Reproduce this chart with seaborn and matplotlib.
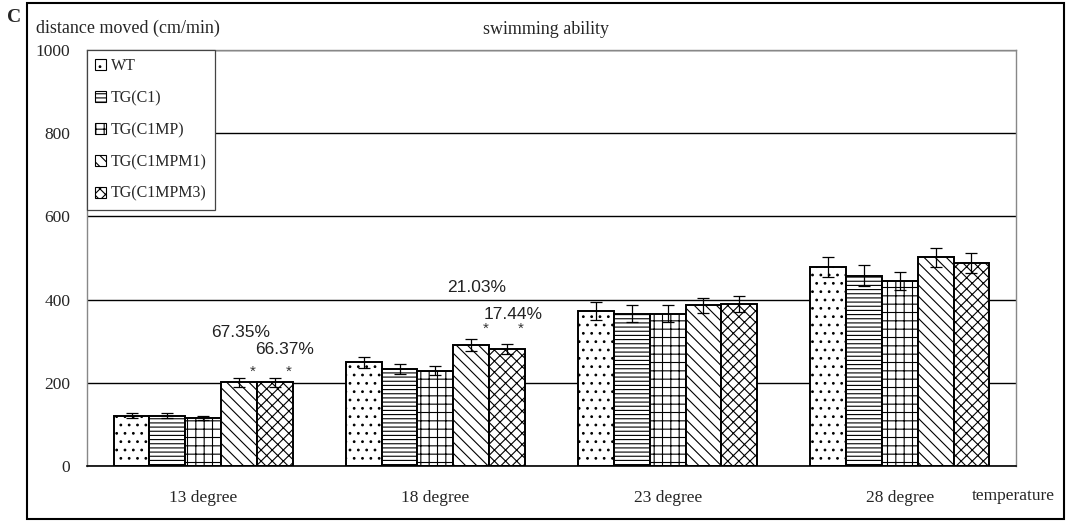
import numpy as np
import pandas as pd
import matplotlib
matplotlib.use("Agg")
import matplotlib.pyplot as plt
import seaborn as sns
from matplotlib.patches import Patch, Rectangle

temps = ['13 degree', '18 degree', '23 degree', '28 degree']
groups = ['WT', 'TG(C1)', 'TG(C1MP)', 'TG(C1MPM1)', 'TG(C1MPM3)']
wt = [121, 249, 373, 478]
c1 = [121, 233, 366, 457]
c1mp = [116, 229, 366, 445]
c1mpm1 = [201, 291, 386, 502]
c1mpm3 = [201, 282, 390, 488]
wt_err = [6, 14, 21, 24]
c1_err = [6, 11, 20, 25]
c1mp_err = [5, 11, 20, 22]
c1mpm1_err = [11, 14, 18, 23]
c1mpm3_err = [10, 12, 19, 25]
hatches = ['..', '----', '++', '\\\\\\', 'xxx']
# percent labels: (temp index, group index, text)
pct_labels = [(0, 3, '67.35%'), (0, 4, '66.37%'), (1, 3, '21.03%'), (1, 4, '17.44%')]
pct_shift = [(0.05, 121), (0.27, 78), (0.15, 139), (0.17, 83)]   # (bar widths, value units)
star_shift = [25, 25, 38, 47]

means = [wt, c1, c1mp, c1mpm1, c1mpm3]
errs = [wt_err, c1_err, c1mp_err, c1mpm1_err, c1mpm3_err]
df = pd.DataFrame({
    'temperature': temps * len(groups),
    'group': np.repeat(groups, len(temps)),
    'value': np.concatenate(means),
    'err': np.concatenate(errs),
})

sns.set_style('white')
plt.rcParams['font.family'] = ['Liberation Serif', 'DejaVu Serif']
plt.rcParams['hatch.linewidth'] = 0.8

fig = plt.figure(figsize=(10.74, 5.24), dpi=100)
ax = fig.add_axes([87/1074, 1-466/524, (1016-87)/1074, (466-50)/524])

sns.barplot(data=df, x='temperature', y='value', hue='group', order=temps, hue_order=groups,
            palette=['white'] * 5, edgecolor='black', linewidth=1.4, width=0.77,
            errorbar=None, legend=False, ax=ax)

centers = {}
for gi, cont in enumerate(list(ax.containers)):
    for ti, bar in enumerate(cont.patches):
        bar.set_hatch(hatches[gi])
        x = bar.get_x() + bar.get_width() / 2
        centers[(ti, gi)] = (x, bar.get_width())
        ax.errorbar(x, means[gi][ti], yerr=errs[gi][ti], color='black', lw=0.9,
                    capsize=4, capthick=0.9, zorder=5)

# percent labels and stars
for (ti, gi, txt), (dx, dy), ds in zip(pct_labels, pct_shift, star_shift):
    x, w = centers[(ti, gi)]
    ax.text(x + w * 0.4, means[gi][ti] + ds, '*', ha='center', va='center', fontsize=11,
            color='#333333', family='Liberation Sans')
    ax.text(x + dx * w, means[gi][ti] + dy, txt, ha='center', va='center',
            fontsize=12.5, color='#222222', family='Liberation Sans')

ax.set_ylim(0, 1000)
ax.set_yticks([0, 200, 400, 600, 800, 1000])
ax.set_xlim(-0.5, 3.5)
ax.set_xlabel('')
ax.set_ylabel('')
ax.yaxis.grid(True, color='black', lw=1)
ax.set_axisbelow(True)
ax.tick_params(axis='y', length=0, pad=12, labelsize=12.5)
ax.tick_params(axis='x', which='major', length=0, pad=17, labelsize=12.5)
ax.set_xticks([0.5, 1.5, 2.5], minor=True)
ax.tick_params(axis='x', which='minor', direction='in', length=4, width=1)
for side in ['left', 'top', 'right']:
    ax.spines[side].set_color('#888888')
    ax.spines[side].set_linewidth(1)
ax.spines['bottom'].set_color('black')
ax.spines['bottom'].set_linewidth(1.2)

handles = [Patch(facecolor='white', edgecolor='black', hatch=h, lw=0.8) for h in hatches]
leg = ax.legend(handles, groups, loc='upper left', bbox_to_anchor=(0, 1), fontsize=11.5,
                handlelength=0.7, handleheight=0.7, handletextpad=0.3, labelspacing=1.0,
                borderpad=0.5, fancybox=False, framealpha=1, edgecolor='#444444', borderaxespad=0)
leg.get_frame().set_linewidth(0.9)

fig.text(36/1074, 1-28/524, 'distance moved (cm/min)', ha='left', va='center', fontsize=13)
fig.text(546/1074, 1-29/524, 'swimming ability', ha='center', va='center', fontsize=13)
fig.text(972/1074, 1-496/524, 'temperature', ha='left', va='center', fontsize=12.5)
fig.text(7/1074, 1-18/524, 'C', ha='left', va='center', fontsize=14, fontweight='bold')
fig.patches.append(Rectangle((27/1074, 5/524), (1064-27)/1074, (521-5)/524, transform=fig.transFigure,
                             fill=False, edgecolor='black', lw=1.5))

fig.savefig('out.png', dpi=100)
